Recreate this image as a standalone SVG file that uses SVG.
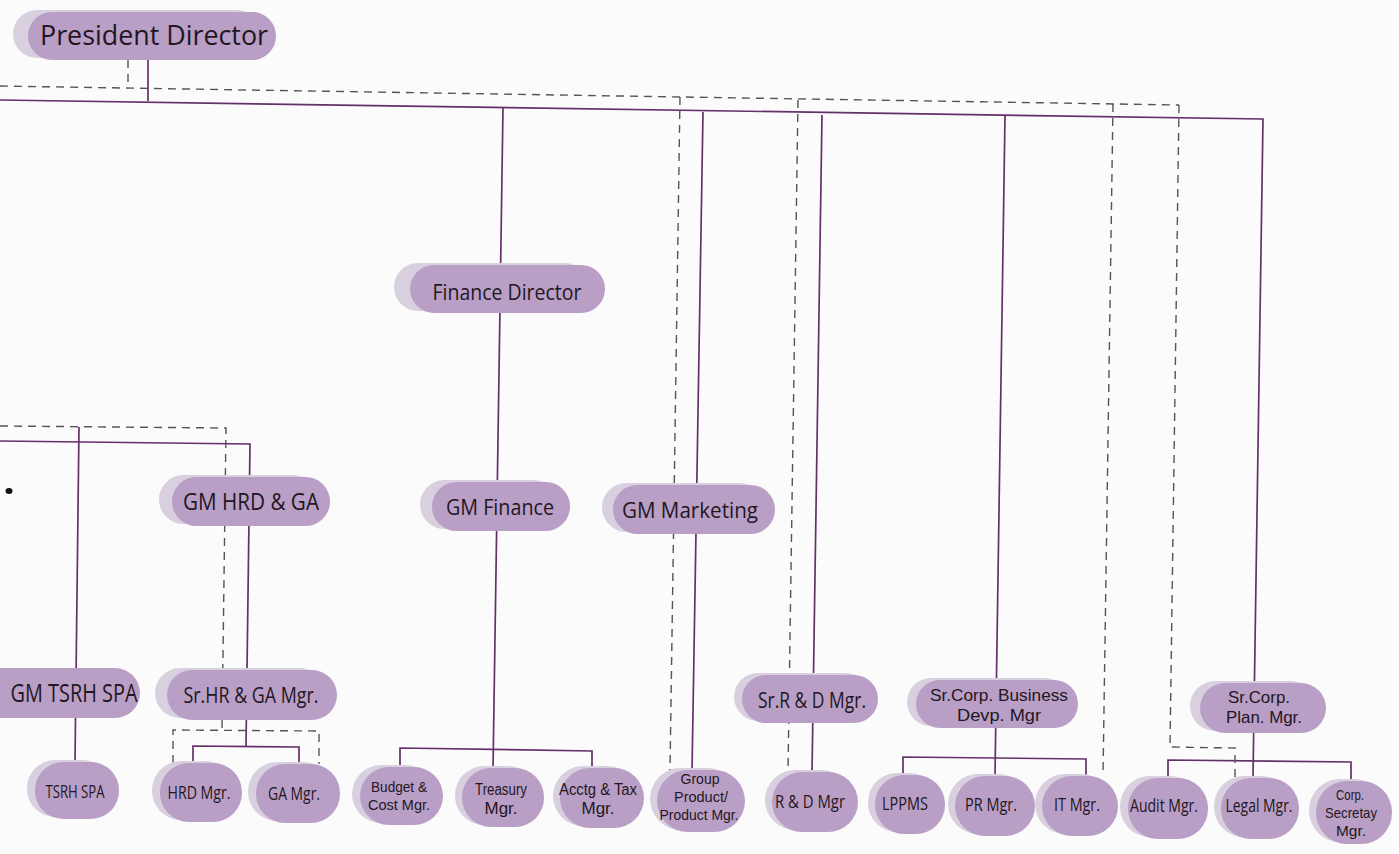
<svg xmlns="http://www.w3.org/2000/svg" width="1399" height="854" viewBox="0 0 1399 854">
<style>
.bg{fill:#fcfbfc}
.sh{fill:#d9d0df}
.pm{fill:#b99ec6}
.s{fill:none;stroke:#64306a;stroke-width:1.7}
.d{fill:none;stroke:#555555;stroke-width:1.4;stroke-dasharray:8 6}
text{font-family:"Open Sans","Noto Sans",sans-serif;fill:#1f1721;text-anchor:middle}
text.m{font-family:"Liberation Sans",Arial,sans-serif}
</style>
<rect class="bg" width="1399" height="854"/>
<g id="connectors">
<path class="s" d="M0,100 L1263,119 L1253,777"/>
<path class="s" d="M148,60 L148,101"/>
<path class="s" d="M503,108 L493,770"/>
<path class="s" d="M400,767 L400,748 L592,751 L592,768"/>
<path class="s" d="M703,112 L692,772"/>
<path class="s" d="M822,115 L812,773"/>
<path class="s" d="M1005,116 L995,775"/>
<path class="s" d="M903,775 L903,757 L1086,759 L1086,776"/>
<path class="s" d="M1168,778 L1168,760 L1351,762 L1351,781"/>
<path class="s" d="M0,441 L250,444 L246,746"/>
<path class="s" d="M193,763 L193,746 L299,747 L299,764"/>
<path class="s" d="M79,427 L75,762"/>
<path class="d" d="M128,60 L128,87"/>
<path class="d" d="M0,86 L1179,105"/>
<path class="d" d="M680,97 L670,770"/>
<path class="d" d="M798,100 L788,772"/>
<path class="d" d="M1113,104 L1103,776"/>
<path class="d" d="M1179,105 L1170,747 L1235,748 L1235,778"/>
<path class="d" d="M0,426 L226,428 L222,730"/>
<path class="d" d="M173,763 L173,730 L319,731 L319,764"/>
</g>
<ellipse cx="9" cy="491" rx="3.5" ry="3" fill="#111"/>
<g id="president-director">
<rect class="sh" x="13" y="10" width="248" height="48" rx="24"/>
<rect class="pm" x="28" y="12" width="248" height="48" rx="24"/>
<text x="154" y="45" font-size="27" textLength="228" lengthAdjust="spacingAndGlyphs">President Director</text>
</g>
<g id="finance-director">
<rect class="sh" x="394" y="263" width="195" height="48" rx="24"/>
<rect class="pm" x="410" y="265" width="195" height="48" rx="24"/>
<text x="507" y="300" font-size="21" textLength="149" lengthAdjust="spacingAndGlyphs">Finance Director</text>
</g>
<g id="gm-hrd-ga">
<rect class="sh" x="159" y="475" width="158" height="49" rx="24.5"/>
<rect class="pm" x="172" y="477" width="158" height="49" rx="24.5"/>
<text x="251" y="510" font-size="24" textLength="136" lengthAdjust="spacingAndGlyphs">GM HRD &amp; GA</text>
</g>
<g id="gm-finance">
<rect class="sh" x="420" y="480" width="138" height="49" rx="24.5"/>
<rect class="pm" x="432" y="482" width="138" height="49" rx="24.5"/>
<text x="500" y="515" font-size="22" textLength="108" lengthAdjust="spacingAndGlyphs">GM Finance</text>
</g>
<g id="gm-marketing">
<rect class="sh" x="602" y="483" width="162" height="49" rx="24.5"/>
<rect class="pm" x="613" y="485" width="162" height="49" rx="24.5"/>
<text x="690" y="518" font-size="22" textLength="136" lengthAdjust="spacingAndGlyphs">GM Marketing</text>
</g>
<g id="gm-tsrh-spa">
<rect class="pm" x="-25" y="668" width="165" height="50" rx="25"/>
<text x="74" y="702" font-size="25" textLength="127" lengthAdjust="spacingAndGlyphs">GM TSRH SPA</text>
</g>
<g id="sr-hr-ga-mgr">
<rect class="sh" x="155" y="668" width="170" height="50" rx="25"/>
<rect class="pm" x="167" y="670" width="170" height="50" rx="25"/>
<text x="251" y="703" font-size="22" textLength="135" lengthAdjust="spacingAndGlyphs">Sr.HR &amp; GA Mgr.</text>
</g>
<g id="sr-rd-mgr">
<rect class="sh" x="734" y="673" width="136" height="48" rx="24"/>
<rect class="pm" x="742" y="675" width="136" height="48" rx="24"/>
<text x="812" y="708" font-size="21" textLength="108" lengthAdjust="spacingAndGlyphs">Sr.R &amp; D Mgr.</text>
</g>
<g id="sr-corp-business-devp-mgr">
<rect class="sh" x="907" y="678" width="162" height="48" rx="24"/>
<rect class="pm" x="916" y="680" width="162" height="48" rx="24"/>
<text class="m" font-size="17"><tspan x="999" y="701" textLength="138" lengthAdjust="spacingAndGlyphs">Sr.Corp. Business</tspan><tspan x="999" y="721" textLength="84" lengthAdjust="spacingAndGlyphs">Devp. Mgr</tspan></text>
</g>
<g id="sr-corp-plan-mgr">
<rect class="sh" x="1190" y="681" width="126" height="50" rx="25"/>
<rect class="pm" x="1200" y="683" width="126" height="50" rx="25"/>
<text class="m" font-size="17"><tspan x="1259" y="703" textLength="62" lengthAdjust="spacingAndGlyphs">Sr.Corp.</tspan><tspan x="1264" y="723" textLength="76" lengthAdjust="spacingAndGlyphs">Plan. Mgr.</tspan></text>
</g>
<g id="tsrh-spa">
<rect class="sh" x="27" y="760" width="84" height="57" rx="28"/>
<rect class="pm" x="35" y="762" width="84" height="57" rx="28"/>
<text x="75" y="798" font-size="18" textLength="59" lengthAdjust="spacingAndGlyphs">TSRH SPA</text>
</g>
<g id="hrd-mgr">
<rect class="sh" x="152" y="761" width="82" height="59" rx="29"/>
<rect class="pm" x="160" y="763" width="82" height="59" rx="29"/>
<text x="199" y="799" font-size="18" textLength="63" lengthAdjust="spacingAndGlyphs">HRD Mgr.</text>
</g>
<g id="ga-mgr">
<rect class="sh" x="248" y="762" width="84" height="59" rx="29"/>
<rect class="pm" x="256" y="764" width="84" height="59" rx="29"/>
<text x="294" y="800" font-size="18" textLength="52" lengthAdjust="spacingAndGlyphs">GA Mgr.</text>
</g>
<g id="budget-cost-mgr">
<rect class="sh" x="352" y="765" width="83" height="58" rx="29"/>
<rect class="pm" x="360" y="767" width="83" height="58" rx="29"/>
<text class="m" font-size="15.5"><tspan x="399" y="792" textLength="56" lengthAdjust="spacingAndGlyphs">Budget &amp;</tspan><tspan x="399" y="810" textLength="62" lengthAdjust="spacingAndGlyphs">Cost Mgr.</tspan></text>
</g>
<g id="treasury-mgr">
<rect class="sh" x="455" y="766" width="82" height="59" rx="29"/>
<rect class="pm" x="462" y="768" width="82" height="59" rx="29"/>
<text class="m" font-size="16"><tspan x="501" y="795" textLength="52" lengthAdjust="spacingAndGlyphs">Treasury</tspan><tspan x="501" y="814" textLength="33" lengthAdjust="spacingAndGlyphs">Mgr.</tspan></text>
</g>
<g id="acctg-tax-mgr">
<rect class="sh" x="553" y="766" width="84" height="60" rx="30"/>
<rect class="pm" x="560" y="768" width="84" height="60" rx="30"/>
<text class="m" font-size="16"><tspan x="598" y="795" textLength="78" lengthAdjust="spacingAndGlyphs">Acctg &amp; Tax</tspan><tspan x="598" y="814" textLength="33" lengthAdjust="spacingAndGlyphs">Mgr.</tspan></text>
</g>
<g id="group-product-mgr">
<rect class="sh" x="650" y="768" width="88" height="62" rx="31"/>
<rect class="pm" x="657" y="770" width="88" height="62" rx="31"/>
<text class="m" font-size="15"><tspan x="700" y="784" textLength="39" lengthAdjust="spacingAndGlyphs">Group</tspan><tspan x="701" y="802" textLength="54" lengthAdjust="spacingAndGlyphs">Product/</tspan><tspan x="699" y="820" textLength="79" lengthAdjust="spacingAndGlyphs">Product Mgr.</tspan></text>
</g>
<g id="rd-mgr">
<rect class="sh" x="765" y="770" width="86" height="60" rx="30"/>
<rect class="pm" x="772" y="772" width="86" height="60" rx="30"/>
<text x="810" y="808" font-size="18" textLength="70" lengthAdjust="spacingAndGlyphs">R &amp; D Mgr</text>
</g>
<g id="lppms">
<rect class="sh" x="868" y="773" width="70" height="59" rx="29"/>
<rect class="pm" x="875" y="775" width="70" height="59" rx="29"/>
<text x="905" y="810" font-size="18" textLength="46" lengthAdjust="spacingAndGlyphs">LPPMS</text>
</g>
<g id="pr-mgr">
<rect class="sh" x="948" y="774" width="80" height="60" rx="30"/>
<rect class="pm" x="955" y="776" width="80" height="60" rx="30"/>
<text x="991" y="811" font-size="18" textLength="52" lengthAdjust="spacingAndGlyphs">PR Mgr.</text>
</g>
<g id="it-mgr">
<rect class="sh" x="1035" y="774" width="76" height="60" rx="30"/>
<rect class="pm" x="1042" y="776" width="76" height="60" rx="30"/>
<text x="1077" y="811" font-size="18" textLength="46" lengthAdjust="spacingAndGlyphs">IT Mgr.</text>
</g>
<g id="audit-mgr">
<rect class="sh" x="1120" y="776" width="80" height="61" rx="30"/>
<rect class="pm" x="1128" y="778" width="80" height="61" rx="30"/>
<text x="1164" y="812" font-size="18" textLength="68" lengthAdjust="spacingAndGlyphs">Audit Mgr.</text>
</g>
<g id="legal-mgr">
<rect class="sh" x="1214" y="776" width="78" height="61" rx="30"/>
<rect class="pm" x="1221" y="778" width="78" height="61" rx="30"/>
<text x="1259" y="812" font-size="18" textLength="67" lengthAdjust="spacingAndGlyphs">Legal Mgr.</text>
</g>
<g id="corp-secretay-mgr">
<rect class="sh" x="1309" y="779" width="76" height="63" rx="31"/>
<rect class="pm" x="1316" y="781" width="76" height="63" rx="31"/>
<text class="m" font-size="15"><tspan x="1350" y="800" textLength="28" lengthAdjust="spacingAndGlyphs">Corp.</tspan><tspan x="1351" y="818" textLength="52" lengthAdjust="spacingAndGlyphs">Secretay</tspan><tspan x="1351" y="836" textLength="30" lengthAdjust="spacingAndGlyphs">Mgr.</tspan></text>
</g>
</svg>
